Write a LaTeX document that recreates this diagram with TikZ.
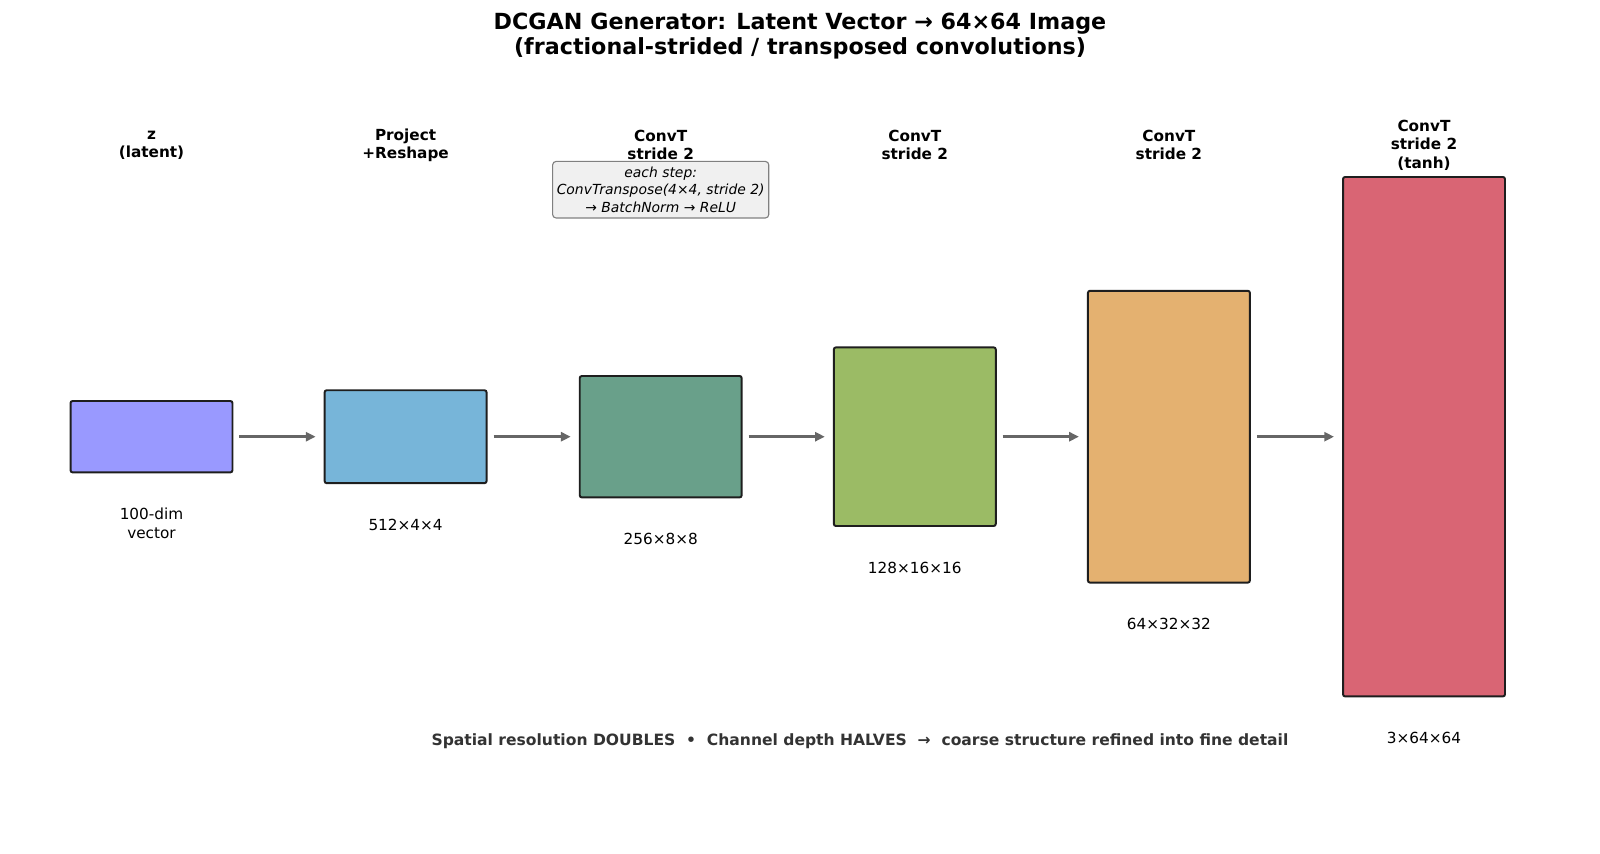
\documentclass[tikz,border=0pt]{standalone}
\usepackage{fontspec}
\setmainfont{DejaVu Sans}
\usetikzlibrary{positioning,arrows.meta}
\definecolor{zlatent}{RGB}{153,153,255}
\definecolor{projblue}{RGB}{119,181,217}
\definecolor{convteal}{RGB}{105,160,138}
\definecolor{convgreen}{RGB}{155,187,101}
\definecolor{convsand}{RGB}{228,177,112}
\definecolor{convrose}{RGB}{217,101,116}
\definecolor{boxedge}{RGB}{30,30,30}
\definecolor{arrowgray}{RGB}{102,102,102}

\begin{document}
\begin{tikzpicture}[x=0.72pt,y=-0.72pt,
  layer/.style={draw=boxedge, line width=1.4pt, rounded corners=1.5pt, minimum width=116.6pt, inner sep=0pt},
  toplabel/.style={font=\bfseries\fontsize{11}{13.2}\selectfont, align=center},
  shapelabel/.style={font=\fontsize{11}{13.2}\selectfont, align=center, inner sep=0pt},
  flow/.style={-{Triangle[length=7pt,width=6.5pt]}, draw=arrowgray, line width=1.8pt, shorten <=4.3pt, shorten >=5.8pt}]
\useasboundingbox (0,0) rectangle (1600,853);

% title
\node[font=\bfseries\fontsize{16}{17.7}\selectfont, align=center] (title) at (800,36)
  {DCGAN Generator: Latent Vector → 64×64 Image\\(fractional-strided / transposed convolutions)};

% layers, centred on one line
\node[layer, fill=zlatent, minimum height=51.4pt] (b1) at (151.5,436.7) {};
\node[layer, fill=projblue, minimum height=66.9pt] (b2) at (405.6,436.7) {};
\node[layer, fill=convteal, minimum height=87.4pt] (b3) at (660.7,436.7) {};
\node[layer, fill=convgreen, minimum height=128.6pt] (b4) at (914.8,436.7) {};
\node[layer, fill=convsand, minimum height=210.1pt] (b5) at (1168.9,436.7) {};
\node[layer, fill=convrose, minimum height=374pt] (b6) at (1424,436.7) {};

% operation names
\node[toplabel] (t1) at (151.5,145) {z\\(latent)};
\node[toplabel] (t2) at (405.6,145) {Project\\+Reshape};
\node[toplabel] (t3) at (660.7,145) {ConvT\\stride 2};
\node[toplabel] (t4) at (914.8,145) {ConvT\\stride 2};
\node[toplabel] (t5) at (1168.9,145) {ConvT\\stride 2};
\node[toplabel] (t6) at (1424,145) {ConvT\\stride 2\\(tanh)};

% tensor shapes
\node[shapelabel, below=25pt of b1] (s1) {100-dim\\vector};
\node[shapelabel, below=25pt of b2] (s2) {512×4×4};
\node[shapelabel, below=25pt of b3] (s3) {256×8×8};
\node[shapelabel, below=25pt of b4] (s4) {128×16×16};
\node[shapelabel, below=25pt of b5] (s5) {64×32×32};
\node[shapelabel, below=25pt of b6] (s6) {3×64×64};

\foreach \a/\b in {b1/b2,b2/b3,b3/b4,b4/b5,b5/b6} { \draw[flow] (\a.east) -- (\b.west); }

% note on the block
\node[draw=gray, fill=gray!12, rounded corners=2.5pt, line width=0.8pt, align=center,
  font=\itshape\fontsize{10}{12.7}\selectfont, inner xsep=3pt, inner ysep=3.8pt] (note) at (660.7,189.7)
  {each step:\\ConvTranspose(4×4, stride 2)\\→ BatchNorm → ReLU};

\node[font=\bfseries\fontsize{11.2}{13.4}\selectfont, text=black!80] (caption) at (860,741)
  {Spatial resolution DOUBLES\ \ •\ \ Channel depth HALVES\ \ →\ \ coarse structure refined into fine detail};
\end{tikzpicture}
\end{document}
